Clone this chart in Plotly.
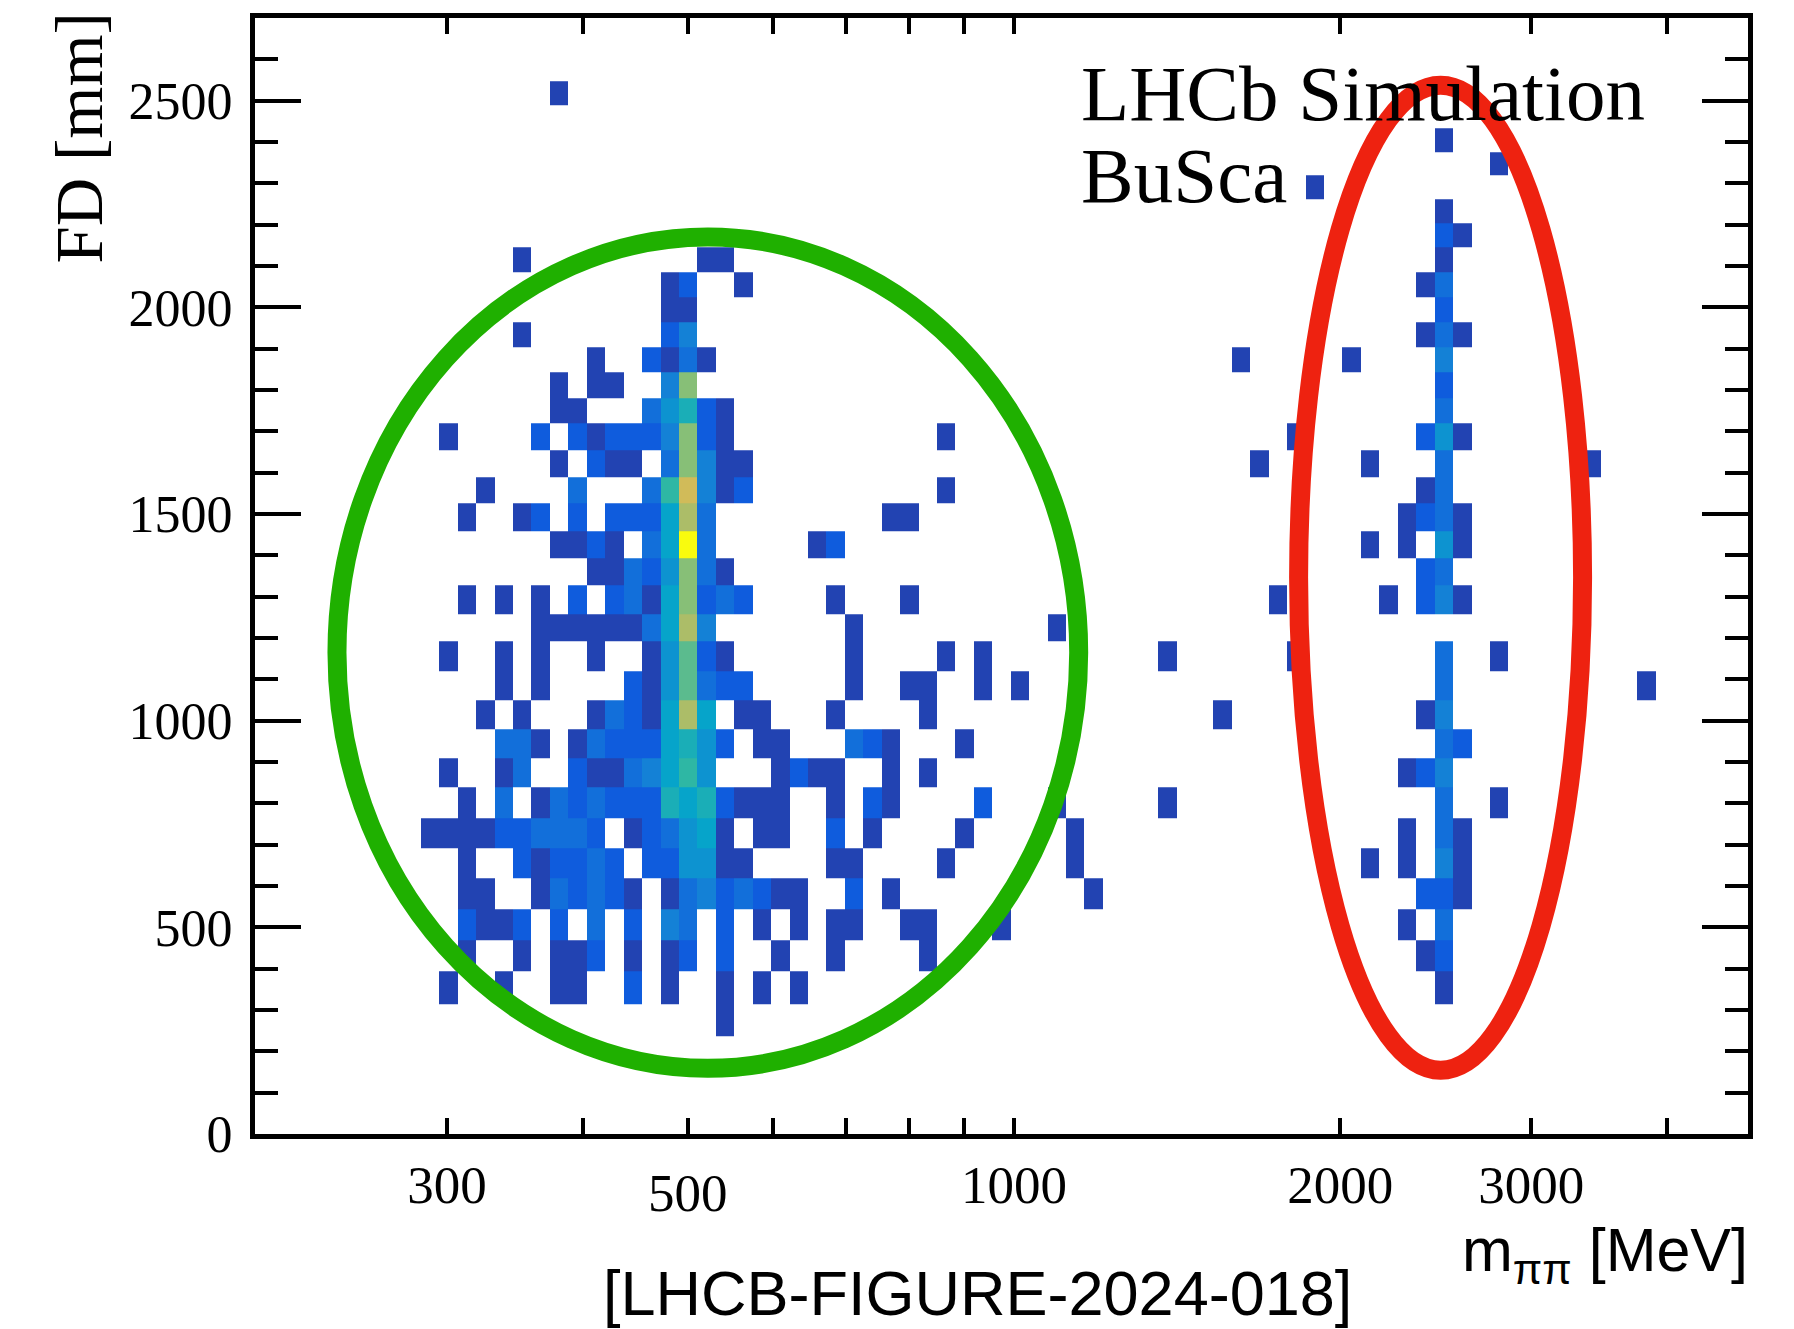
import math
import plotly.graph_objects as go

# ---------------- data ----------------
# x binning: 81 bins uniform in log10(m_pipi / MeV) starting at 10^2.3
LOG_M_MIN = 2.3
LOG_M_BW = 0.017
N_M_BINS = 81

# FD bin edges [mm] (top to bottom)
fd_edges = [2547, 2490, 2434, 2375, 2319, 2262, 2204, 2146, 2086, 2025, 1964, 1904,
            1842, 1780, 1719, 1654, 1590, 1525, 1458, 1392, 1327, 1258, 1191, 1120,
            1050, 980, 909, 838, 765, 692, 619, 544, 469, 393, 315, 237]

# filled cells, grouped by FD row: row FD centre, bin-centre masses [MeV], counts
row_fd = [2518, 2404, 2347, 2290, 2233, 2175, 2116, 2055, 1994, 1934, 1873, 1811,
          1750, 1686, 1622, 1557, 1491, 1425, 1360, 1292, 1224, 1155, 1085, 1015,
          944, 873, 801, 728, 655, 581, 506, 431, 354, 276]

row_mass = [
    [381],
    [2493],
    [2804],
    [1895],
    [2493],
    [2493, 2592],
    [352, 521, 541, 2493],
    [481, 501, 563, 2397, 2493],
    [481, 501, 2493],
    [352, 481, 501, 2397, 2493, 2592],
    [412, 463, 481, 501, 521, 1620, 2049, 2493],
    [381, 412, 428, 481, 501, 2493],
    [381, 396, 463, 481, 501, 521, 541, 2493],
    [301, 366, 396, 412, 428, 445, 463, 481, 501, 521, 541, 866, 1822, 2397, 2493, 2592],
    [381, 412, 428, 445, 481, 501, 521, 541, 563, 1685, 2131, 2493, 3408],
    [325, 396, 463, 481, 501, 521, 541, 563, 866, 2397, 2493],
    [313, 352, 366, 396, 428, 445, 463, 481, 501, 521, 770, 801, 2305, 2397, 2493, 2592],
    [381, 396, 412, 428, 463, 481, 501, 521, 659, 685, 2131, 2305, 2493, 2592],
    [412, 428, 445, 463, 481, 501, 521, 541, 2397, 2493],
    [313, 338, 366, 396, 428, 445, 463, 481, 501, 521, 541, 563, 685, 801, 1752, 2216,
     2397, 2493, 2592],
    [366, 381, 396, 412, 428, 445, 463, 481, 501, 521, 712, 1095],
    [301, 338, 366, 412, 463, 481, 501, 521, 541, 712, 866, 937, 1385, 1822, 2493, 2804],
    [338, 366, 445, 463, 481, 501, 521, 541, 563, 712, 801, 833, 937, 1013, 2493, 3833],
    [325, 352, 412, 428, 445, 463, 481, 501, 521, 563, 586, 685, 833, 1558, 2397, 2493],
    [338, 352, 366, 396, 412, 428, 445, 463, 481, 501, 521, 541, 586, 609, 712, 741, 770,
     901, 2493, 2592],
    [301, 338, 352, 396, 412, 428, 445, 463, 481, 501, 521, 609, 633, 659, 685, 770, 833,
     2305, 2397, 2493],
    [313, 338, 366, 381, 396, 412, 428, 445, 463, 481, 501, 521, 541, 563, 586, 609, 685,
     741, 770, 937, 1095, 1385, 2493, 2804],
    [289, 301, 313, 325, 338, 352, 366, 381, 396, 412, 445, 463, 481, 501, 521, 541, 586,
     609, 685, 741, 901, 1139, 2305, 2493, 2592],
    [313, 352, 366, 381, 396, 412, 428, 463, 481, 501, 521, 541, 563, 685, 712, 866, 1139,
     2131, 2305, 2493, 2592],
    [313, 325, 366, 381, 396, 412, 428, 445, 481, 501, 521, 541, 563, 586, 609, 633, 712,
     770, 1184, 2397, 2493, 2592],
    [313, 325, 338, 352, 381, 412, 445, 481, 501, 541, 586, 633, 685, 712, 801, 833, 974,
     2305, 2493],
    [313, 352, 381, 396, 412, 445, 481, 501, 541, 609, 685, 833, 2397, 2493],
    [301, 338, 381, 396, 445, 481, 541, 586, 633, 2493],
    [541],
]

row_count = [
    [1],
    [1],
    [1],
    [1],
    [1],
    [2, 1],
    [1, 1, 1, 1],
    [1, 2, 1, 1, 3],
    [1, 1, 2],
    [1, 2, 4, 1, 3, 1],
    [1, 2, 1, 3, 1, 1, 1, 4],
    [1, 1, 1, 4, 10, 2],
    [1, 1, 3, 5, 7, 2, 1, 3],
    [1, 2, 2, 1, 2, 2, 2, 4, 10, 2, 1, 1, 1, 2, 5, 1],
    [1, 2, 1, 1, 3, 10, 4, 1, 1, 1, 1, 3, 1],
    [1, 3, 3, 8, 12, 4, 1, 2, 1, 1, 3],
    [1, 1, 2, 2, 2, 2, 2, 6, 11, 3, 1, 1, 1, 2, 3, 1],
    [1, 1, 2, 1, 3, 6, 16, 3, 1, 2, 1, 1, 5, 1],
    [1, 1, 3, 2, 5, 10, 3, 1, 2, 3],
    [1, 1, 1, 2, 2, 3, 1, 6, 10, 2, 3, 2, 1, 1, 1, 1, 2, 4, 1],
    [1, 1, 1, 1, 1, 1, 3, 6, 11, 4, 1, 1],
    [1, 1, 1, 1, 1, 5, 9, 2, 1, 1, 1, 1, 1, 1, 3, 1],
    [1, 1, 2, 1, 5, 9, 3, 2, 2, 1, 1, 1, 1, 1, 3, 1],
    [1, 1, 1, 3, 2, 1, 6, 11, 6, 1, 1, 1, 1, 1, 1, 4],
    [3, 3, 1, 1, 3, 2, 2, 2, 6, 7, 5, 2, 1, 1, 3, 2, 1, 1, 3, 2],
    [1, 1, 3, 2, 1, 1, 3, 4, 6, 8, 5, 1, 2, 1, 1, 1, 1, 1, 2, 4],
    [1, 3, 1, 3, 2, 3, 2, 2, 2, 7, 6, 7, 2, 1, 1, 1, 1, 2, 1, 2, 1, 1, 3, 1],
    [1, 1, 1, 1, 2, 2, 3, 3, 3, 2, 1, 2, 3, 5, 6, 1, 1, 1, 2, 1, 1, 1, 1, 3, 1],
    [1, 2, 1, 2, 2, 3, 2, 2, 2, 5, 5, 1, 1, 1, 1, 1, 1, 1, 1, 4, 1],
    [1, 1, 1, 3, 2, 3, 2, 1, 1, 3, 4, 2, 3, 2, 1, 1, 2, 1, 1, 2, 2, 1],
    [2, 1, 1, 2, 2, 3, 2, 4, 3, 2, 1, 1, 1, 1, 1, 1, 1, 1, 3],
    [1, 1, 1, 1, 2, 1, 1, 2, 2, 1, 1, 1, 1, 2],
    [1, 1, 1, 1, 2, 1, 1, 1, 1, 1],
    [1],
]

X_TICK_VALS = [300, 400, 500, 600, 700, 800, 900, 1000, 2000, 3000, 4000]
X_TICK_TEXT = ["300", "", "", "", "", "", "", "1000", "2000", "3000", ""]
X_LOWER_LABEL = 500   # this label sits slightly lower in the original

# ---------------- build histogram matrix ----------------
fd_asc = fd_edges[::-1]
n_fd = len(fd_asc) - 1
m_edges = [10 ** (LOG_M_MIN + LOG_M_BW * i) for i in range(N_M_BINS + 1)]
z = [[None] * N_M_BINS for _ in range(n_fd)]
for fd, masses, counts in zip(row_fd, row_mass, row_count):
    iy = next(i for i in range(n_fd) if fd_asc[i] <= fd < fd_asc[i + 1])
    for m, n in zip(masses, counts):
        ix = int((math.log10(m) - LOG_M_MIN) / LOG_M_BW)
        z[iy][ix] = n

bird = [[0.0, "rgb(53,42,135)"], [0.125, "rgb(15,92,221)"], [0.25, "rgb(20,129,214)"],
        [0.375, "rgb(6,164,202)"], [0.5, "rgb(46,183,164)"], [0.625, "rgb(135,191,119)"],
        [0.75, "rgb(209,187,89)"], [0.875, "rgb(254,200,50)"], [1.0, "rgb(249,251,14)"]]

fig = go.Figure(go.Heatmap(x=m_edges, y=fd_asc, z=z, colorscale=bird, zmin=0, zmax=16,
                           showscale=False, hoverongaps=False))

serif = "Liberation Serif"
sans = "Liberation Sans"

fig.update_layout(
    width=1794, height=1329,
    margin=dict(l=255, r=46, t=18, b=195),
    plot_bgcolor="white", paper_bgcolor="white",
    showlegend=False,
    xaxis=dict(type="log", range=[LOG_M_MIN, LOG_M_MIN + LOG_M_BW * N_M_BINS],
               tickmode="array", tickvals=X_TICK_VALS, ticktext=X_TICK_TEXT,
               ticks="inside", ticklen=16, tickwidth=4, tickcolor="black",
               showline=True, linewidth=5, linecolor="black", mirror="ticks",
               showgrid=False, zeroline=False, ticklabelstandoff=0,
               tickfont=dict(family=serif, size=53, color="black")),
    yaxis=dict(range=[0, 2700], tick0=0, dtick=500,
               ticks="inside", ticklen=46, tickwidth=4, tickcolor="black",
               minor=dict(tick0=0, dtick=100, ticks="inside", ticklen=23, tickwidth=4,
                          tickcolor="black", showgrid=False),
               showline=True, linewidth=5, linecolor="black", mirror="ticks",
               showgrid=False, zeroline=False, ticklabelstandoff=7,
               tickfont=dict(family=serif, size=52, color="black")),
)

fig.add_shape(type="circle", xref="paper", yref="paper",
              x0=0.0549, x1=0.5517, y0=0.0589, y1=0.8038,
              line=dict(color="#1fb000", width=19), layer="above")
fig.add_shape(type="circle", xref="paper", yref="paper",
              x0=0.6990, x1=0.8892, y0=0.0571, y1=0.9398,
              line=dict(color="#ee2210", width=19), layer="above")

fig.add_annotation(text=str(X_LOWER_LABEL), xref="x", yref="paper",
                   x=math.log10(X_LOWER_LABEL), y=-0.0529,
                   xanchor="center", yanchor="middle", showarrow=False,
                   font=dict(family=serif, size=53, color="black"))
fig.add_annotation(text="LHCb Simulation", xref="paper", yref="paper", x=0.5519, y=0.9325,
                   xanchor="left", yanchor="middle", showarrow=False,
                   font=dict(family=serif, size=79, color="black"))
fig.add_annotation(text="BuSca", xref="paper", yref="paper", x=0.5519, y=0.8590,
                   xanchor="left", yanchor="middle", showarrow=False,
                   font=dict(family=serif, size=79, color="black"))
fig.add_annotation(text="FD [mm]", xref="paper", yref="paper", x=-0.1179, y=0.893,
                   xanchor="center", yanchor="middle", textangle=-90, showarrow=False,
                   font=dict(family=serif, size=67, color="black"))
fig.add_annotation(text="m<sub>ππ</sub> [MeV]", xref="paper", yref="paper", x=1.0013,
                   y=-0.1084, xanchor="right", yanchor="middle", showarrow=False,
                   font=dict(family=sans, size=61, color="black"))
fig.add_annotation(text="[LHCB-FIGURE-2024-018]", xref="paper", yref="paper", x=0.4836,
                   y=-0.1427, xanchor="center", yanchor="middle", showarrow=False,
                   font=dict(family=sans, size=63, color="black"))

fig.write_html("out.html")
